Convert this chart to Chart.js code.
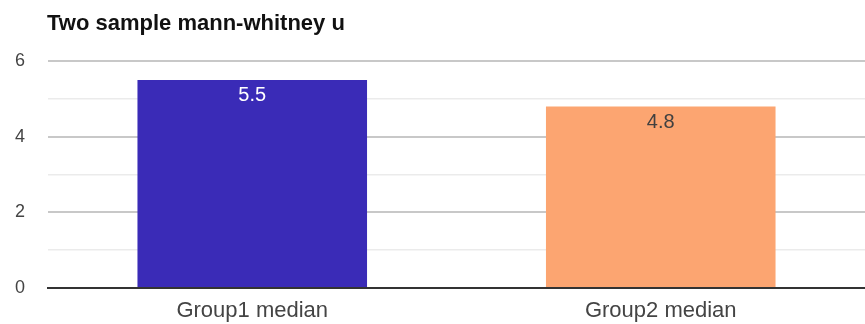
<!DOCTYPE html>
<html>
<head>
<meta charset="utf-8">
<script src="https://cdn.jsdelivr.net/npm/chart.js@4.4.0/dist/chart.umd.min.js"></script>
<style>
  html, body { margin: 0; padding: 0; background: #fff; }
  #wrap { width: 865px; height: 324px; position: relative; }
</style>
</head>
<body>
<div id="wrap"><canvas id="chart"></canvas></div>
<script>
const chartTitle = 'Two sample mann-whitney u';
const categories = ['Group1 median', 'Group2 median'];
const medians = [5.5, 4.8];
const valueLabels = ['5.5', '4.8'];
const barColors = ['#3a2bb7', '#fca571'];
const labelColors = ['#ffffff', '#404040'];
const yTicks = [0, 2, 4, 6];

const FONT = '"Liberation Sans", Arial, sans-serif';

// title + value labels drawn by hand, google-charts style
const extras = {
  id: 'extras',
  afterDatasetsDraw(chart) {
    let ctx = chart.ctx;
    ctx.save();
    ctx.font = 'bold 22px ' + FONT;
    ctx.fillStyle = '#111';
    ctx.textAlign = 'left';
    ctx.textBaseline = 'middle';
    ctx.fillText(chartTitle, 47, 24);

    let meta = chart.getDatasetMeta(0);
    ctx.font = '20px ' + FONT;
    ctx.textAlign = 'center';
    meta.data.forEach(function (bar, i) {
      ctx.fillStyle = labelColors[i];
      ctx.fillText(valueLabels[i], bar.x, bar.y + 16);
    });
    ctx.restore();
  }
};

new Chart(document.getElementById('chart'), {
  type: 'bar',
  data: {
    labels: categories,
    datasets: [{
      data: medians,
      backgroundColor: barColors,
      borderColor: barColors,
      borderWidth: 0,
      barPercentage: 1,
      categoryPercentage: 0.562
    }]
  },
  options: {
    responsive: true,
    maintainAspectRatio: false,
    animation: false,
    layout: { padding: { top: 61, right: 0, bottom: 0, left: 0 } },
    plugins: {
      legend: { display: false },
      tooltip: { enabled: false }
    },
    scales: {
      x: {
        grid: { display: false, drawTicks: false },
        border: { color: '#333', width: 2 },
        ticks: { color: '#444', padding: 10, font: { family: FONT, size: 22 } },
        afterFit: function (s) { s.height = 36; }
      },
      y: {
        min: 0,
        max: 6,
        border: { display: false },
        grid: {
          drawTicks: false,
          color: function (c) { return c.tick.value % 2 === 0 ? '#c8c8c8' : '#ebebeb'; },
          lineWidth: function (c) { return c.tick.value % 2 === 0 ? 2 : 1.5; }
        },
        ticks: {
          stepSize: 1,
          color: '#444',
          padding: 23,
          font: { family: FONT, size: 18 },
          callback: function (v) { return yTicks.includes(v) ? String(v) : ''; }
        },
        afterFit: function (s) { s.width = 48; }
      }
    }
  },
  plugins: [extras]
});
</script>
</body>
</html>
